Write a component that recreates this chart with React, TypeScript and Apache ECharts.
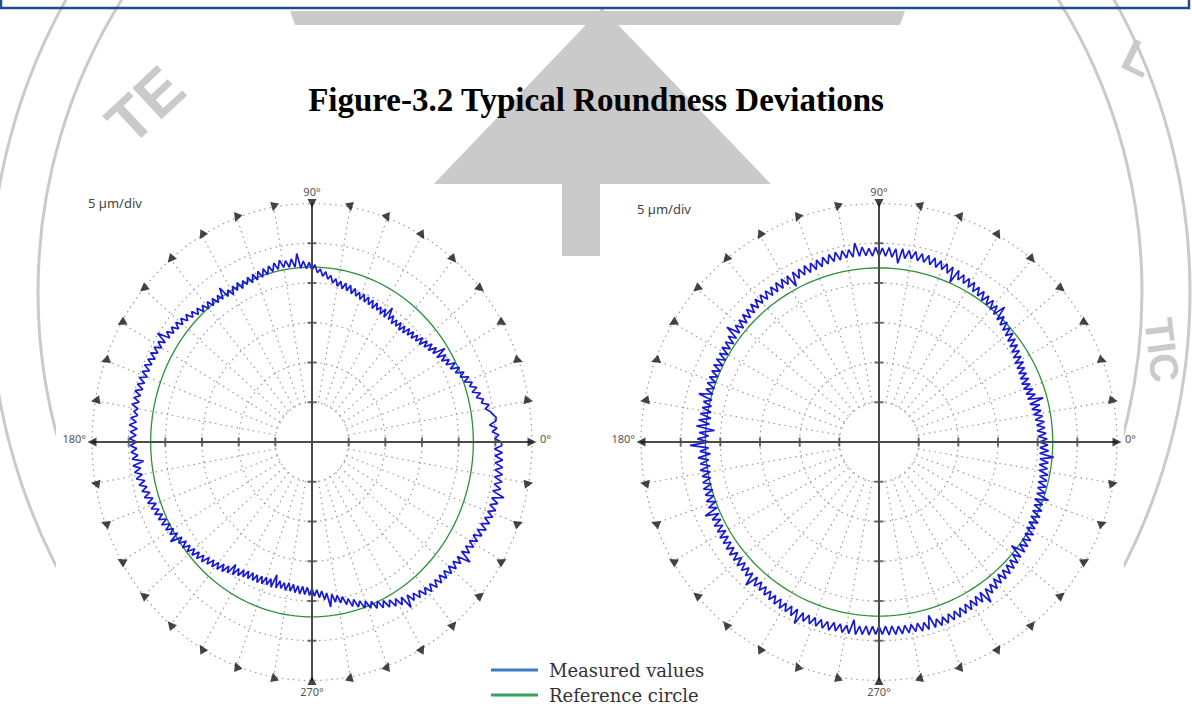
import React, { useEffect, useRef } from 'react';
import * as echarts from 'echarts';

// ---------- data ----------
const TITLE = 'Figure-3.2 Typical Roundness Deviations';
const SCALE_LABEL = '5 µm/div';
const DIRECTION_LABELS = ['0°', '90°', '180°', '270°'];
const LEGEND_NAMES = ['Measured values', 'Reference circle'];
const RADIUS_MAX = 30; // µm (6 div)
const TICK_VALUES = [5, 10, 15, 20, 25];
const RING_RADII = [5, 10, 15, 20, 25, 30];
const SPOKE_ANGLES = [10, 20, 30, 40, 50, 60, 70, 80, 100, 110, 120, 130, 140, 150, 160, 170, 190, 200, 210, 220, 230, 240, 250, 260, 280, 290, 300, 310, 320, 330, 340, 350];
const MARKER_ANGLES = [0, 10, 20, 30, 40, 50, 60, 70, 80, 90, 100, 110, 120, 130, 140, 150, 160, 170, 180, 190, 200, 210, 220, 230, 240, 250, 260, 270, 280, 290, 300, 310, 320, 330, 340, 350];
const SAMPLE_STEP = 1; // degrees between measured samples

// measured radius (µm from plot centre) at 0°, 1°, 2° ... 359°
const LEFT_MEASURED = [
  25.8, 24.9, 25.5, 24.6, 25.3, 24.3, 25.2, 25.3, 24.9, 24.6,
  24.0, 24.6, 23.6, 24.0, 23.1, 23.8, 22.7, 23.5, 22.6, 23.1,
  22.1, 22.9, 21.8, 22.5, 21.4, 22.2, 21.0, 21.9, 20.7, 21.4,
  20.4, 21.3, 20.1, 21.6, 19.9, 20.7, 19.6, 20.5, 19.4, 20.2,
  19.1, 20.0, 19.0, 19.7, 18.8, 19.6, 18.7, 19.5, 18.5, 19.3,
  18.4, 19.3, 18.5, 19.2, 18.4, 19.4, 18.6, 20.1, 18.5, 19.5,
  18.6, 19.4, 18.8, 19.6, 18.7, 19.7, 18.9, 19.8, 19.0, 19.9,
  19.1, 19.9, 19.3, 20.2, 19.4, 20.4, 19.6, 20.5, 19.7, 20.6,
  19.9, 20.8, 20.2, 21.1, 20.6, 21.5, 20.9, 21.8, 21.3, 22.3,
  21.6, 22.6, 21.8, 22.8, 21.9, 23.8, 22.1, 23.2, 22.2, 23.1,
  22.3, 23.3, 22.2, 23.1, 22.1, 22.9, 21.9, 22.8, 21.8, 22.7,
  21.7, 22.6, 21.6, 22.5, 21.7, 22.4, 21.5, 22.5, 21.6, 22.4,
  21.4, 22.3, 21.6, 23.1, 21.7, 22.5, 21.7, 22.6, 21.8, 22.7,
  21.9, 22.8, 22.1, 23.0, 22.3, 23.2, 22.6, 23.5, 22.8, 23.7,
  23.0, 23.9, 23.1, 24.0, 23.3, 24.2, 23.4, 25.1, 23.6, 24.5,
  23.7, 24.6, 23.8, 24.7, 23.8, 24.7, 23.9, 24.8, 23.9, 24.8,
  23.9, 24.9, 24.0, 24.9, 24.0, 25.0, 24.1, 24.9, 24.1, 25.0,
  24.1, 24.6, 24.0, 24.9, 24.1, 25.0, 23.9, 24.8, 24.0, 24.9,
  23.9, 24.8, 23.9, 24.7, 23.8, 24.6, 23.1, 24.6, 23.6, 24.5,
  23.5, 24.4, 23.3, 24.2, 23.2, 24.0, 23.0, 23.9, 22.8, 23.7,
  22.6, 23.5, 22.5, 23.3, 22.3, 23.1, 22.1, 23.0, 21.9, 22.8,
  21.8, 22.6, 21.6, 23.0, 21.4, 22.2, 21.2, 22.1, 21.1, 21.9,
  20.9, 21.7, 20.7, 21.5, 20.5, 21.3, 20.2, 21.0, 20.0, 20.8,
  19.8, 20.6, 19.5, 20.4, 19.3, 20.1, 18.6, 19.9, 18.8, 19.6,
  18.6, 19.4, 18.4, 19.3, 18.3, 19.2, 18.3, 19.2, 18.2, 19.1,
  18.1, 19.0, 18.1, 19.1, 17.4, 19.0, 18.0, 18.9, 18.1, 19.0,
  18.0, 19.0, 18.1, 19.1, 18.2, 19.2, 18.2, 19.2, 18.3, 19.3,
  18.4, 19.4, 18.6, 19.6, 18.8, 19.9, 19.1, 20.9, 19.3, 20.4,
  19.6, 20.6, 19.9, 21.0, 20.3, 21.4, 20.6, 21.7, 21.0, 22.1,
  21.3, 22.4, 21.6, 22.7, 21.9, 23.0, 22.2, 23.3, 22.5, 23.6,
  22.8, 23.9, 23.0, 24.8, 23.2, 24.3, 23.5, 24.5, 23.7, 24.7,
  23.9, 24.9, 24.0, 25.0, 24.1, 25.0, 24.1, 25.1, 24.2, 25.2,
  24.3, 25.3, 24.4, 25.4, 24.5, 26.3, 24.6, 25.6, 24.7, 25.7,
  24.8, 25.8, 24.9, 26.0, 25.1, 26.2, 25.2, 26.3, 25.4, 26.4,
  25.5, 26.5, 25.5, 26.5, 25.5, 27.1, 25.4, 26.4, 25.4, 26.4,
  25.3, 26.3, 25.2, 26.2, 25.1, 26.1, 25.0, 26.0, 24.9, 25.9,
];

const RIGHT_MEASURED = [
  20.2, 21.2, 20.1, 21.1, 20.0, 21.0, 20.0, 21.0, 19.9, 20.9,
  19.8, 20.8, 19.7, 20.8, 19.6, 21.4, 19.5, 20.6, 19.5, 20.5,
  19.4, 20.4, 19.4, 20.5, 19.5, 20.5, 19.6, 20.6, 19.7, 20.8,
  19.8, 20.9, 20.0, 21.1, 20.2, 21.3, 20.4, 21.5, 20.6, 21.7,
  20.8, 21.9, 21.0, 22.1, 21.2, 22.3, 21.4, 23.2, 21.6, 22.7,
  21.8, 22.9, 21.9, 23.0, 22.0, 23.1, 22.2, 23.2, 22.3, 23.4,
  22.5, 23.5, 22.6, 23.6, 22.7, 23.8, 22.0, 23.9, 22.9, 24.0,
  23.1, 24.1, 23.1, 24.2, 23.2, 24.3, 23.3, 24.3, 23.3, 24.4,
  23.4, 24.4, 23.3, 24.5, 22.6, 24.4, 23.3, 24.5, 23.4, 24.4,
  23.4, 24.5, 23.4, 24.4, 23.5, 24.6, 23.5, 25.2, 23.5, 24.5,
  23.5, 24.5, 23.4, 24.5, 23.4, 24.4, 23.3, 24.3, 23.2, 24.2,
  23.1, 24.1, 23.0, 24.1, 23.0, 24.0, 22.9, 24.0, 22.2, 23.9,
  22.9, 23.9, 22.8, 23.9, 22.8, 23.8, 22.8, 23.8, 22.8, 23.8,
  22.8, 23.8, 22.7, 23.7, 22.6, 23.6, 22.5, 23.5, 22.4, 23.4,
  22.3, 23.3, 22.3, 24.0, 22.2, 23.2, 22.1, 23.1, 22.1, 23.1,
  22.0, 23.0, 21.9, 23.0, 21.9, 23.0, 21.9, 22.9, 21.9, 22.9,
  21.9, 22.9, 21.8, 22.8, 21.8, 23.5, 21.7, 22.7, 21.6, 22.7,
  21.5, 22.8, 21.4, 22.9, 21.5, 23.1, 20.8, 22.7, 21.5, 22.9,
  21.4, 23.8, 21.5, 22.6, 21.3, 22.9, 21.6, 22.7, 21.5, 22.8,
  21.6, 22.7, 21.7, 22.8, 21.8, 22.9, 21.8, 22.9, 21.9, 23.0,
  21.9, 23.0, 22.0, 23.8, 22.1, 23.2, 22.2, 23.3, 22.3, 23.3,
  22.3, 23.4, 22.4, 23.4, 22.5, 23.5, 22.6, 23.6, 22.6, 23.6,
  22.6, 23.7, 22.7, 23.7, 22.8, 23.8, 22.9, 24.6, 22.9, 24.0,
  23.0, 24.0, 23.1, 24.1, 23.2, 24.2, 23.3, 24.3, 23.3, 24.4,
  23.4, 24.4, 23.4, 24.5, 23.4, 25.2, 23.5, 24.5, 23.5, 24.5,
  23.5, 24.5, 23.5, 24.5, 23.5, 24.5, 23.4, 24.4, 23.4, 24.4,
  23.4, 24.4, 22.6, 24.4, 23.3, 24.3, 23.2, 24.3, 23.2, 24.2,
  23.2, 24.2, 23.2, 24.3, 23.2, 24.3, 23.3, 24.3, 23.3, 24.3,
  23.3, 24.3, 23.3, 24.4, 23.4, 24.4, 22.7, 24.4, 23.4, 24.4,
  23.4, 24.4, 23.3, 24.3, 23.3, 24.3, 23.2, 24.2, 23.1, 24.1,
  23.0, 24.0, 22.9, 24.0, 22.8, 24.6, 22.8, 23.8, 22.7, 23.7,
  22.5, 23.5, 22.4, 23.5, 22.4, 23.4, 22.3, 23.3, 22.2, 23.2,
  22.0, 23.0, 21.2, 23.0, 21.9, 22.9, 21.8, 22.8, 21.7, 22.7,
  21.5, 22.5, 21.4, 22.5, 21.3, 22.4, 21.2, 22.3, 21.1, 22.1,
  20.9, 22.6, 20.9, 21.9, 20.8, 21.8, 20.7, 21.7, 20.7, 21.7,
  20.5, 21.5, 20.4, 21.5, 20.4, 22.1, 20.3, 21.4, 20.3, 21.3,
];

const LEFT_REFERENCE = 22.0; // µm
const RIGHT_REFERENCE = 21.9; // µm

// ---------- helpers ----------
const rad = (d: number) => (d * Math.PI) / 180;
const toXY = (r: number, deg: number) => [r * Math.cos(rad(deg)), r * Math.sin(rad(deg))];
const circle = (r: number, step = 2) => {
  const pts: number[][] = [];
  for (let a = 0; a <= 360; a += step) pts.push(toXY(r, a));
  return pts;
};

const BLUE = '#1818d8';
const GREEN = '#2f8f3a';
const AXIS = '#4a4a4a';
const GRID = '#9a9a9a';
const WM = '#cacaca';

function plotSeries(idx: number, measured: number[], reference: number) {
  const base = { xAxisIndex: idx, yAxisIndex: idx, silent: true };
  const measuredData = measured.map((r, i) => toXY(r, i * SAMPLE_STEP));
  measuredData.push(measuredData[0]);
  const refData = circle(reference, 2);
  return [
    {
      ...base,
      type: 'lines',
      coordinateSystem: 'cartesian2d',
      polyline: true,
      z: 1,
      lineStyle: { color: GRID, width: 1.2, type: [1.5, 4], opacity: 1 },
      data: RING_RADII.map((r) => ({ coords: circle(r, 2) })),
    },
    {
      ...base,
      type: 'lines',
      coordinateSystem: 'cartesian2d',
      z: 1,
      lineStyle: { color: GRID, width: 1.2, type: [1.5, 4], opacity: 1 },
      data: SPOKE_ANGLES.map((a) => ({ coords: [toXY(RING_RADII[0], a), toXY(RADIUS_MAX, a)] })),
    },
    {
      ...base,
      type: 'lines',
      coordinateSystem: 'cartesian2d',
      z: 5,
      lineStyle: { color: AXIS, width: 2, opacity: 1 },
      data: [
        { coords: [toXY(RADIUS_MAX, 180), toXY(RADIUS_MAX, 0)] },
        { coords: [toXY(RADIUS_MAX, 270), toXY(RADIUS_MAX, 90)] },
      ],
    },
    {
      ...base,
      name: LEGEND_NAMES[1],
      type: 'line',
      z: 3,
      symbol: 'none',
      color: GREEN,
      lineStyle: { color: GREEN, width: 1.3 },
      data: refData,
    },
    {
      ...base,
      name: LEGEND_NAMES[0],
      type: 'line',
      z: 4,
      symbol: 'none',
      color: BLUE,
      lineStyle: { color: BLUE, width: 1.7 },
      data: measuredData,
    },
    {
      ...base,
      type: 'scatter',
      z: 6,
      symbol: 'rect',
      symbolSize: [2, 9],
      itemStyle: { color: AXIS },
      data: [...TICK_VALUES.map((v) => [v, 0]), ...TICK_VALUES.map((v) => [-v, 0])],
    },
    {
      ...base,
      type: 'scatter',
      z: 6,
      symbol: 'rect',
      symbolSize: [9, 2],
      itemStyle: { color: AXIS },
      data: [...TICK_VALUES.map((v) => [0, v]), ...TICK_VALUES.map((v) => [0, -v])],
    },
    {
      ...base,
      type: 'scatter',
      z: 7,
      symbol: 'triangle',
      symbolSize: 9,
      itemStyle: { color: '#151515' },
      data: MARKER_ANGLES.map((a) => ({ value: toXY(RADIUS_MAX, a), symbolRotate: -(a + 90) })),
    },
  ];
}

const LABEL_STYLE = { fill: '#555', fontSize: 11, fontFamily: 'Noto Sans' };

function dirLabels(cx: number, cy: number, rx: number, ry: number) {
  return [
    { type: 'text', z: 20, x: cx + rx + 8, y: cy - 4, style: { ...LABEL_STYLE, text: DIRECTION_LABELS[0], align: 'left', verticalAlign: 'middle' } },
    { type: 'text', z: 20, x: cx, y: cy - ry - 12, style: { ...LABEL_STYLE, text: DIRECTION_LABELS[1], align: 'center', verticalAlign: 'middle' } },
    { type: 'text', z: 20, x: cx - rx - 6, y: cy - 4, style: { ...LABEL_STYLE, text: DIRECTION_LABELS[2], align: 'right', verticalAlign: 'middle' } },
    { type: 'text', z: 20, x: cx, y: cy + ry + 11, style: { ...LABEL_STYLE, text: DIRECTION_LABELS[3], align: 'center', verticalAlign: 'middle' } },
  ];
}

export default function App() {
  const ref = useRef<HTMLDivElement>(null);
  useEffect(() => {
    if (!ref.current) return;
    const chart = echarts.init(ref.current, undefined, { renderer: 'svg' });
    const L = { left: 92, top: 203.5, width: 440, height: 477 };
    const R = { left: 641, top: 203.5, width: 476, height: 477 };
    const axisCommon = { type: 'value', min: -RADIUS_MAX, max: RADIUS_MAX, show: false };
    chart.setOption({
      animation: false,
      backgroundColor: '#ffffff',
      grid: [
        { ...L, containLabel: false },
        { ...R, containLabel: false },
      ],
      xAxis: [
        { ...axisCommon, gridIndex: 0 },
        { ...axisCommon, gridIndex: 1 },
      ],
      yAxis: [
        { ...axisCommon, gridIndex: 0 },
        { ...axisCommon, gridIndex: 1 },
      ],
      legend: {
        orient: 'vertical',
        left: 486,
        top: 656,
        itemWidth: 47,
        itemHeight: 3,
        itemGap: 7,
        icon: 'rect',
        selectedMode: false,
        textStyle: { fontFamily: 'DejaVu Serif', fontSize: 18, color: '#333', padding: [0, 0, 0, 6] },
        data: [
          { name: LEGEND_NAMES[0], itemStyle: { color: '#3b79c4' } },
          { name: LEGEND_NAMES[1], itemStyle: { color: '#37a35c' } },
        ],
      },
      graphic: [
        // watermark (behind)
        { type: 'polygon', z: 0, shape: { points: [[290, 11], [905, 11], [900, 25], [295, 25]] }, style: { fill: WM } },
        { type: 'polygon', z: 0, shape: { points: [[602, 8], [840, 256], [365, 256]] }, style: { fill: WM } },
        { type: 'arc', z: 0, shape: { cx: 590, cy: 292, r: 600, startAngle: 0, endAngle: Math.PI * 2 }, style: { stroke: WM, lineWidth: 3, fill: 'none' } },
        { type: 'arc', z: 0, shape: { cx: 590, cy: 292, r: 552, startAngle: 0, endAngle: Math.PI * 2 }, style: { stroke: WM, lineWidth: 3, fill: 'none' } },
        { type: 'text', z: 0, x: 145, y: 105, rotation: 0.75, style: { text: 'TE', fill: WM, fontSize: 62, fontWeight: 'bold', fontFamily: 'Liberation Sans', align: 'center', verticalAlign: 'middle' } },
        { type: 'text', z: 0, x: 1138, y: 58, rotation: -0.45, style: { text: 'L', fill: WM, fontSize: 46, fontWeight: 'bold', fontFamily: 'Liberation Sans', align: 'center', verticalAlign: 'middle' } },
        { type: 'text', z: 0, x: 1162, y: 350, rotation: -1.45, style: { text: 'TIC', fill: WM, fontSize: 40, fontWeight: 'bold', fontFamily: 'Liberation Sans', align: 'center', verticalAlign: 'middle' } },
        // chart image backgrounds
        { type: 'rect', z: 0, shape: { x: 56, y: 184, width: 506, height: 527 }, style: { fill: '#ffffff' } },
        { type: 'rect', z: 0, shape: { x: 600, y: 184, width: 524, height: 527 }, style: { fill: '#ffffff' } },
        // header frame
        { type: 'rect', z: 20, shape: { x: 1, y: -20, width: 1188, height: 28 }, style: { fill: 'none', stroke: '#1f4e8f', lineWidth: 2.5 } },
        // title
        { type: 'text', z: 20, x: 596, y: 100, style: { text: TITLE, fill: '#000', fontSize: 33, fontWeight: 'bold', fontFamily: 'Liberation Serif', align: 'center', verticalAlign: 'middle' } },
        // scale labels
        { type: 'text', z: 20, x: 88, y: 203, style: { text: SCALE_LABEL, fill: '#444', fontSize: 13, fontFamily: 'Noto Sans', align: 'left', verticalAlign: 'middle' } },
        { type: 'text', z: 20, x: 637, y: 209, style: { text: SCALE_LABEL, fill: '#444', fontSize: 13, fontFamily: 'Noto Sans', align: 'left', verticalAlign: 'middle' } },
        ...dirLabels(312, 442, 220, 238.5),
        ...dirLabels(879, 442, 238, 238.5),
      ],
      series: [...plotSeries(0, LEFT_MEASURED, LEFT_REFERENCE), ...plotSeries(1, RIGHT_MEASURED, RIGHT_REFERENCE)],
    });
    return () => chart.dispose();
  }, []);
  return <div ref={ref} style={{ position: 'fixed', left: 0, top: 0, width: 1192, height: 711 }} />;
}
